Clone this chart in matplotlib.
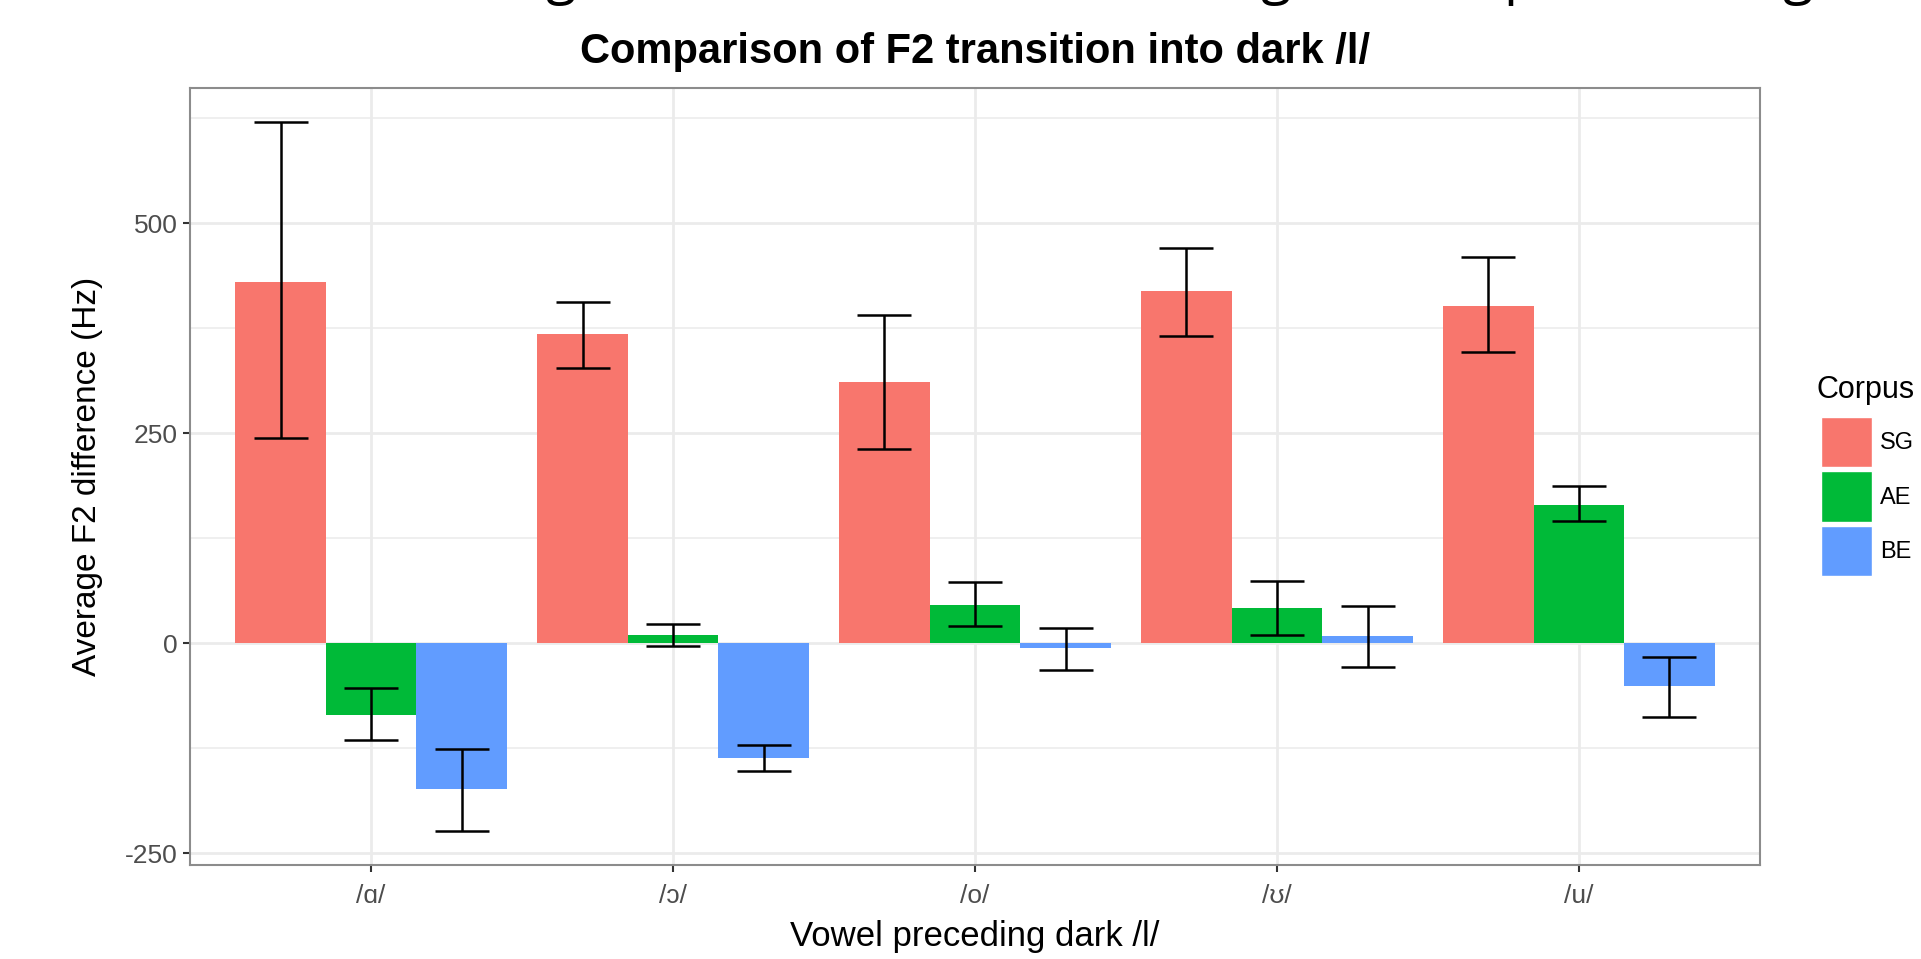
import numpy as np
import matplotlib
matplotlib.use("Agg")
import matplotlib.pyplot as plt
from matplotlib.patches import Rectangle

# values
vowels = ['/ɑ/', '/ɔ/', '/o/', '/ʊ/', '/u/']
corpora = ['SG', 'AE', 'BE']

sg_mean = [430, 368, 311, 419, 402]
sg_low = [244, 328, 231, 366, 347]
sg_high = [620, 406, 391, 470, 460]

ae_mean = [-85, 10, 45, 42, 165]
ae_low = [-115, -3, 20, 10, 145]
ae_high = [-53, 23, 73, 74, 187]

be_mean = [-174, -137, -6, 9, -51]
be_low = [-223, -152, -32, -28, -88]
be_high = [-126, -121, 18, 44, -16]

colors = ['#F8766D', '#00BA38', '#619CFF']

plt.rcParams['font.family'] = ['Liberation Sans', 'DejaVu Sans']
plt.rcParams['axes.unicode_minus'] = False

W, H = 1921, 959


def plot_data():
    fig = plt.figure(figsize=(W / 100, H / 100), dpi=100)
    ax = fig.add_axes([190 / W, 1 - 865 / H, 1570 / W, 777 / H])

    means = [sg_mean, ae_mean, be_mean]
    lows = [sg_low, ae_low, be_low]
    highs = [sg_high, ae_high, be_high]

    x = np.arange(len(vowels))
    width = 0.3
    for i, name in enumerate(corpora):
        pos = x + (i - 1) * width
        ax.bar(pos, means[i], width=width, color=colors[i], label=name, zorder=2)
        m = np.array(means[i])
        err = [m - np.array(lows[i]), np.array(highs[i]) - m]
        ax.errorbar(pos, m, yerr=err, fmt='none', ecolor='black',
                    elinewidth=1.8, capsize=19.5, capthick=1.8, zorder=3)

    ax.set_xlim(-0.6, len(vowels) - 0.4)
    ax.set_ylim(-264, 661)
    ax.set_yticks([-250, 0, 250, 500])
    ax.set_yticks([-125, 125, 375, 625], minor=True)
    ax.set_xticks(x)
    ax.set_xticklabels(vowels)

    ax.grid(True, which='major', color='#EBEBEB', linewidth=2.0, zorder=0)
    ax.grid(True, which='minor', axis='y', color='#EBEBEB', linewidth=1.1, zorder=0)
    ax.set_axisbelow(True)
    for s in ax.spines.values():
        s.set_color('#8C8C8C')
        s.set_linewidth(1.5)

    ax.tick_params(axis='both', which='major', length=5, width=1.5, color='#333333',
                   labelcolor='#4D4D4D', labelsize=19)
    ax.tick_params(axis='x', which='major', pad=9)
    ax.tick_params(axis='y', which='major', pad=4)
    ax.tick_params(axis='both', which='minor', length=0)

    ax.set_xlabel('Vowel preceding dark /l/', fontsize=25, labelpad=8)
    ax.set_ylabel('Average F2 difference (Hz)', fontsize=24, labelpad=16)
    ax.set_title('Comparison of F2 transition into dark /l/', fontsize=30,
                 fontweight='bold', pad=18)

    # legend drawn by hand, like the ggplot guide (cut off at the right edge)
    fig.text(1817 / W, 1 - 390 / H, 'Corpus', fontsize=22, va='center', ha='left')
    for i, name in enumerate(corpora):
        top = 417 + i * 54.5
        fig.add_artist(Rectangle((1821 / W, 1 - (top + 50) / H), 51 / W, 50 / H,
                                 transform=fig.transFigure, facecolor=colors[i],
                                 edgecolor='white', linewidth=1))
        fig.text(1880 / W, 1 - (top + 26) / H, name, fontsize=17,
                 va='center', ha='left')

    # bottom of a line of slide text cut off at the top of the image
    for xp, word in [(560, 'g'), (985, '/l/'), (1275, 'g'), (1520, 'p'), (1797, 'g')]:
        fig.text(xp / W, 1 + 8 / H, word, ha='center', va='baseline',
                 fontsize=40, family=['Open Sans', 'DejaVu Sans'])

    fig.savefig('out.png', dpi=100)


def main():
    plot_data()


if __name__ == "__main__":
    main()
